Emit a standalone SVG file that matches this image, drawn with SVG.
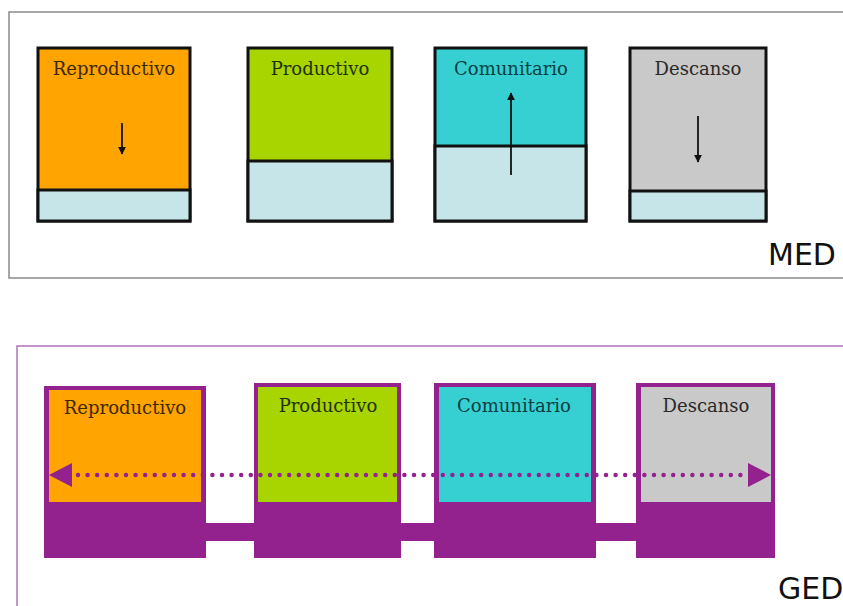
<svg xmlns="http://www.w3.org/2000/svg" width="843" height="606" viewBox="0 0 843 606">
<defs>
<style>
.lbl{font-family:"DejaVu Serif","Liberation Serif",serif;font-size:18px;text-anchor:middle}
.tag{font-family:"DejaVu Sans","Liberation Sans",sans-serif;font-size:30px;fill:#111}
.mbox{stroke:#111;stroke-width:3}
.low{fill:#C6E5E9}
.arr{stroke:#111;stroke-width:1.8;fill:none}
.pur{fill:#93218E}
</style>
<marker id="ah" viewBox="0 0 10 10" refX="9" refY="5" markerWidth="8" markerHeight="8" markerUnits="userSpaceOnUse" orient="auto">
<path d="M0,0 L10,5 L0,10 Z" fill="#111"/>
</marker>
</defs>
<rect width="843" height="606" fill="#fff"/>

<!-- MED frame -->
<rect x="9" y="12" width="900" height="266" fill="none" stroke="#8a8a8a" stroke-width="1.5"/>
<text class="tag" x="768" y="265">MED</text>

<g id="med-reproductivo">
<rect x="38" y="48" width="152" height="173" fill="#FFA400" class="mbox"/>
<rect x="38" y="190" width="152" height="31" class="low mbox"/>
<text class="lbl" x="114" y="75" fill="#3d2900">Reproductivo</text>
</g>
<g id="med-productivo">
<rect x="248" y="48" width="144" height="173" fill="#A8D400" class="mbox"/>
<rect x="248" y="161" width="144" height="60" class="low mbox"/>
<text class="lbl" x="320" y="75" fill="#1e3200">Productivo</text>
</g>
<g id="med-comunitario">
<rect x="435" y="48" width="151" height="173" fill="#36D0D3" class="mbox"/>
<rect x="435" y="146" width="151" height="75" class="low mbox"/>
<text class="lbl" x="511" y="75" fill="#0a3f3f">Comunitario</text>
</g>
<g id="med-descanso">
<rect x="630" y="48" width="136" height="173" fill="#C9C9C9" class="mbox"/>
<rect x="630" y="191" width="136" height="30" class="low mbox"/>
<text class="lbl" x="698" y="75" fill="#2a2a2a">Descanso</text>
</g>

<g id="med-arrows">
<line class="arr" x1="122" y1="123" x2="122" y2="154" marker-end="url(#ah)"/>
<line class="arr" x1="511" y1="175" x2="511" y2="93" marker-end="url(#ah)"/>
<line class="arr" x1="698" y1="116" x2="698" y2="162" marker-end="url(#ah)"/>
</g>

<!-- GED frame -->
<rect x="17" y="346" width="900" height="300" fill="none" stroke="#B472BC" stroke-width="1.5"/>
<text class="tag" x="778" y="599">GED</text>

<g id="ged-connectors">
<rect x="200" y="523" width="445" height="18" class="pur"/>
</g>

<g id="ged-reproductivo">
<rect x="44" y="386" width="162" height="172" class="pur"/>
<rect x="49" y="390" width="152" height="112" fill="#FFA400"/>
<text class="lbl" x="125" y="414" fill="#3d2900">Reproductivo</text>
</g>
<g id="ged-productivo">
<rect x="254" y="383" width="147" height="175" class="pur"/>
<rect x="258" y="387" width="139" height="115" fill="#A8D400"/>
<text class="lbl" x="328" y="412" fill="#1e3200">Productivo</text>
</g>
<g id="ged-comunitario">
<rect x="434" y="383" width="162" height="175" class="pur"/>
<rect x="439" y="387" width="152" height="115" fill="#36D0D3"/>
<text class="lbl" x="514" y="412" fill="#0a3f3f">Comunitario</text>
</g>
<g id="ged-descanso">
<rect x="636" y="383" width="139" height="175" class="pur"/>
<rect x="641" y="387" width="130" height="115" fill="#C9C9C9"/>
<text class="lbl" x="706" y="412" fill="#2a2a2a">Descanso</text>
</g>

<g id="ged-dotted-arrow">
<line x1="78" y1="475" x2="745" y2="475" stroke="#93218E" stroke-width="4.5" stroke-linecap="round" stroke-dasharray="0 9.6"/>
<polygon points="49,475 72,463 72,487" fill="#93218E"/>
<polygon points="771,475 748,463 748,487" fill="#93218E"/>
</g>
</svg>
